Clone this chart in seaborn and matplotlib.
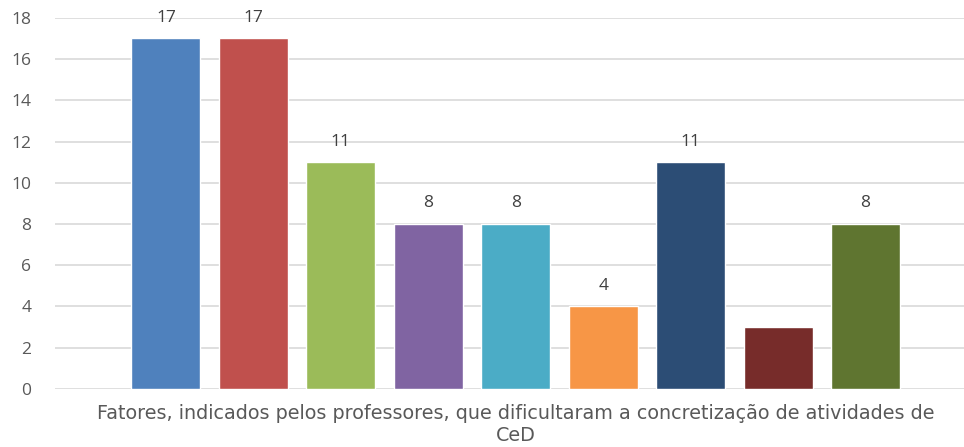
import matplotlib.pyplot as plt
import seaborn as sns
import pandas as pd

# Dados (uma categoria, nove fatores)
categoria = "Fatores, indicados pelos professores, que dificultaram a concretização de atividades de\nCeD"
fatores = ["F1", "F2", "F3", "F4", "F5", "F6", "F7", "F8", "F9"]
valores = [17, 17, 11, 8, 8, 4, 11, 3, 8]
rotulos = ["17", "17", "11", "8", "8", "4", "11", "", "8"]
cores = ["#4F81BD", "#C0504D", "#9BBB59", "#8064A2", "#4BACC6",
         "#F79646", "#2C4D75", "#772C2A", "#5F7530"]

df = pd.DataFrame({"grupo": [categoria] * len(fatores), "fator": fatores, "valor": valores})

sns.set_style("white")
plt.rcParams['font.family'] = ['Open Sans', 'DejaVu Sans']

fig = plt.figure(figsize=(9.64, 4.47), dpi=100)
ax = fig.add_axes([0.057, 0.130, 0.956, 0.830])

sns.barplot(data=df, x="grupo", y="valor", hue="fator", palette=cores,
            width=0.854, gap=0.21, legend=False, ax=ax, saturation=1)

# rótulos de valor acima das barras
for cont, lab in zip(ax.containers, rotulos):
    ax.bar_label(cont, labels=[lab], padding=9, fontsize=12.5, color="#404040")

ax.set_ylim(0, 18)
ax.set_yticks(range(0, 19, 2))
ax.yaxis.grid(True, color="#D9D9D9", linewidth=1.2)
ax.set_axisbelow(True)
for s in ax.spines.values():
    s.set_visible(False)
ax.set_xlabel("")
ax.set_ylabel("")
ax.tick_params(axis="y", length=0, pad=17, labelsize=12.5, labelcolor="#595959")
ax.tick_params(axis="x", length=0, pad=11)
for t in ax.get_xticklabels():
    t.set_fontfamily(["DejaVu Sans"])
    t.set_fontsize(13.8)
    t.set_color("#595959")
    t.set_linespacing(1.2)

plt.savefig("out.png", dpi=100)
plt.close()
